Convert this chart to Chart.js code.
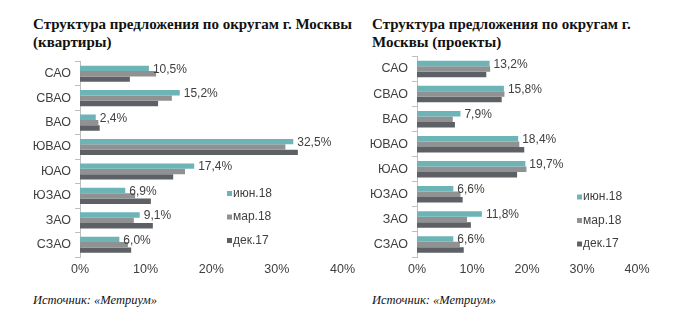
<!DOCTYPE html>
<html>
<head>
<meta charset="utf-8">
<script src="https://cdn.jsdelivr.net/npm/chart.js@4/dist/chart.umd.min.js"></script>
<style>
  body { margin: 0; background: #fff; width: 700px; height: 324px; position: relative; overflow: hidden; }
  .title { position: absolute; top: 15px; font: bold 15px "Liberation Serif", "Times New Roman", serif; line-height: 18px; color: #111; }
  .source { position: absolute; top: 293px; font: italic 12.5px "Liberation Serif", "Times New Roman", serif; color: #111; }
  canvas { position: absolute; }
</style>
</head>
<body>
<div class="title" style="left:33px; width:330px;">Структура предложения по округам г. Москвы<br>(квартиры)</div>
<div class="title" style="left:372px; width:300px;">Структура предложения по округам г.<br>Москвы (проекты)</div>
<div class="source" style="left:33px;">Источник: «Метриум»</div>
<div class="source" style="left:372px;">Источник: «Метриум»</div>
<canvas id="flatsChart" style="left:0; top:50px; width:360px; height:235px;" width="360" height="235"></canvas>
<canvas id="projectsChart" style="left:350px; top:45px; width:350px; height:240px;" width="350" height="240"></canvas>
<script>
// Districts and periods
const districts = ["САО", "СВАО", "ВАО", "ЮВАО", "ЮАО", "ЮЗАО", "ЗАО", "СЗАО"];
const periods = ["июн.18", "мар.18", "дек.17"];
const periodColors = ["#6cb4b6", "#8f9193", "#5d6165"];
const xTicks = [0, 10, 20, 30, 40];

// Flats share by district, %
const flatsJun18 = [10.5, 15.2, 2.4, 32.5, 17.4, 6.9, 9.1, 6.0];
const flatsMar18 = [11.6, 14.0, 2.8, 31.3, 16.0, 8.4, 8.2, 7.3];
const flatsDec17 = [7.6, 11.9, 3.0, 33.2, 14.2, 10.8, 11.1, 7.8];

// Projects share by district, %
const projectsJun18 = [13.2, 15.8, 7.9, 18.4, 19.7, 6.6, 11.8, 6.6];
const projectsMar18 = [13.3, 15.9, 6.5, 18.6, 19.9, 7.9, 9.1, 7.8];
const projectsDec17 = [12.6, 15.4, 6.9, 19.5, 18.2, 8.3, 9.8, 8.5];

const fmt = v => v.toFixed(1).replace(".", ",") + "%";

// value labels on the latest period only
const valueLabels = {
  id: "valueLabels",
  afterDatasetsDraw(chart) {
    const ctx = chart.ctx;
    const meta = chart.getDatasetMeta(0);
    ctx.save();
    ctx.font = '12px "Liberation Sans", Arial, sans-serif';
    ctx.fillStyle = "#404040";
    ctx.textBaseline = "middle";
    meta.data.forEach((bar, i) => {
      ctx.fillText(fmt(chart.data.datasets[0].data[i]), bar.x + 4, bar.y + 1);
    });
    ctx.restore();
  }
};

// small legend in the lower right of the plot
const cornerLegend = {
  id: "cornerLegend",
  afterDraw(chart, args, opts) {
    const ctx = chart.ctx;
    const area = chart.chartArea;
    const x = chart.scales.x.getPixelForValue(opts.at);
    ctx.save();
    ctx.font = '12px "Liberation Sans", Arial, sans-serif';
    ctx.textBaseline = "middle";
    chart.data.datasets.forEach((ds, i) => {
      const y = area.bottom - opts.lift + i * 23.5;
      ctx.fillStyle = ds.backgroundColor;
      ctx.fillRect(x, y - 2.5, 5, 5);
      ctx.fillStyle = "#404040";
      ctx.fillText(ds.label, x + 6, y);
    });
    ctx.restore();
  }
};

function makeChart(id, series, yWidth, pad, legendAt, legendLift) {
  return new Chart(document.getElementById(id), {
    type: "bar",
    data: {
      labels: districts,
      datasets: series.map((data, i) => ({
        label: periods[i],
        data: data,
        backgroundColor: periodColors[i],
        categoryPercentage: 0.66,
        barPercentage: 1.0
      }))
    },
    options: {
      indexAxis: "y",
      responsive: false,
      animation: false,
      layout: { padding: pad },
      plugins: {
        legend: { display: false },
        tooltip: { enabled: false },
        cornerLegend: { at: legendAt, lift: legendLift }
      },
      scales: {
        x: {
          min: 0,
          max: 40,
          afterBuildTicks: s => { s.ticks = xTicks.map(v => ({ value: v })); },
          afterFit: s => { s.height = 28; },
          grid: { display: false, drawTicks: false },
          border: { display: false },
          ticks: {
            padding: 5,
            color: "#404040",
            font: { family: '"Liberation Sans", Arial, sans-serif', size: 12.5 },
            callback: v => v + "%"
          }
        },
        y: {
          afterFit: s => { s.width = yWidth; },
          grid: { offset: true, drawOnChartArea: false, tickLength: 5, color: "#bfbfbf" },
          border: { color: "#bfbfbf" },
          ticks: {
            padding: 4,
            color: "#404040",
            font: { family: '"Liberation Sans", Arial, sans-serif', size: 12.5 }
          }
        }
      }
    },
    plugins: [valueLabels, cornerLegend]
  });
}

makeChart("flatsChart", [flatsJun18, flatsMar18, flatsDec17], 80,
  { top: 6, right: 17, bottom: 0, left: 0 }, 22.4, 63.5);
makeChart("projectsChart", [projectsJun18, projectsMar18, projectsDec17], 67,
  { top: 6, right: 63, bottom: 0, left: 0 }, 29.1, 60);
</script>
</body>
</html>
